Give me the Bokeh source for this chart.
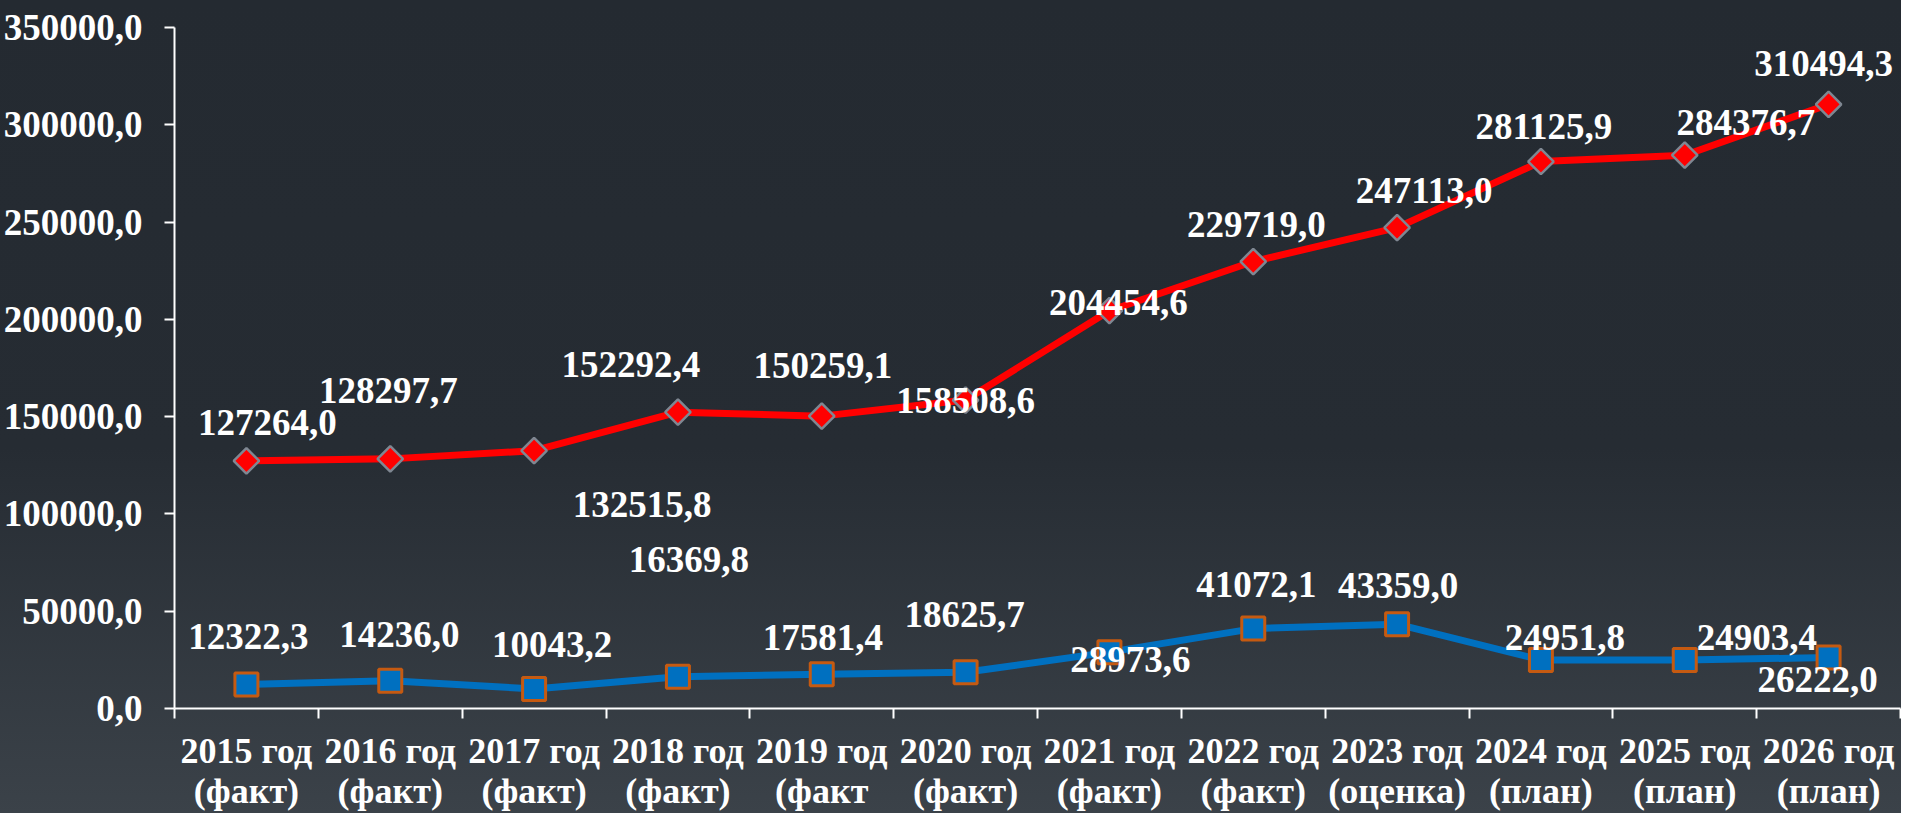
from bokeh.plotting import figure
from bokeh.models import Range1d, FixedTicker, LinearAxis, ColumnDataSource
from bokeh.core.properties import value
from bokeh.embed import file_html
from bokeh.resources import INLINE
import numpy as np

years = ["2015 год", "2016 год", "2017 год", "2018 год", "2019 год", "2020 год",
         "2021 год", "2022 год", "2023 год", "2024 год", "2025 год", "2026 год"]
statuses = ["(факт)", "(факт)", "(факт)", "(факт)", "(факт", "(факт)",
            "(факт)", "(факт)", "(оценка)", "(план)", "(план)", "(план)"]
red_values = [127264.0, 128297.7, 132515.8, 152292.4, 150259.1, 158508.6,
              204454.6, 229719.0, 247113.0, 281125.9, 284376.7, 310494.3]
blue_values = [12322.3, 14236.0, 10043.2, 16369.8, 17581.4, 18625.7,
               28973.6, 41072.1, 43359.0, 24951.8, 24903.4, 26222.0]
y_ticks = [0, 50000, 100000, 150000, 200000, 250000, 300000, 350000]
y_tick_labels = ["0,0", "50000,0", "100000,0", "150000,0", "200000,0",
                 "250000,0", "300000,0", "350000,0"]

# label offsets in screen pixels (style)
red_dx = [21, -2, 108, -47, 1, 0, 9, 3, 27, 3, 61, -5]
red_dy = [-38, -68, 54, -48, -51, 0, -8, -37, -37, -35, -33, -41]
blue_dx = [2, 9, 18, 11, 1, -1, 21, 3, 1, 24, 72, -11]
blue_dy = [-48, -46, -44, -117, -37, -58, 7, -44, -39, -22, -23, 22]

FONT = "Liberation Serif"
n = len(years)
xs = [i + 0.5 for i in range(n)]

def fmt(v):
    return f"{v:.1f}".replace(".", ",")

p = figure(width=1901, height=813, x_range=Range1d(0, n), y_range=Range1d(0, 350000),
           output_backend="svg", toolbar_location=None,
           x_axis_type=None, y_axis_type=None,
           min_border_left=171, min_border_right=1, min_border_top=27, min_border_bottom=104)
p.grid.visible = False
p.outline_line_color = None
p.background_fill_color = None
p.border_fill_color = None
p.styles = {"background": "linear-gradient(to bottom, #242a31 0%, #262c33 55%, #3b4249 100%)"}

yaxis = LinearAxis(ticker=FixedTicker(ticks=y_ticks),
                   major_label_overrides={t: l for t, l in zip(y_ticks, y_tick_labels)})
yaxis.axis_line_color = "white"
yaxis.axis_line_width = 2
yaxis.major_tick_line_color = "white"
yaxis.major_tick_line_width = 2
yaxis.major_tick_out = 10
yaxis.major_tick_in = 0
yaxis.minor_tick_line_color = None
yaxis.major_label_standoff = 22
yaxis.major_label_text_font = FONT
yaxis.major_label_text_font_style = "bold"
yaxis.major_label_text_font_size = "37px"
yaxis.major_label_text_color = "white"
p.add_layout(yaxis, "left")

xaxis = LinearAxis(ticker=FixedTicker(ticks=xs, minor_ticks=list(range(n + 1))),
                   major_label_overrides={x: f"{y}\n{s}" for x, y, s in zip(xs, years, statuses)})
xaxis.axis_line_color = "white"
xaxis.axis_line_width = 2
xaxis.major_tick_line_color = None
xaxis.major_tick_out = 10
xaxis.major_tick_in = 0
xaxis.minor_tick_line_color = "white"
xaxis.minor_tick_line_width = 2
xaxis.minor_tick_out = 10
xaxis.minor_tick_in = 0
xaxis.major_label_standoff = 12
xaxis.major_label_text_font = FONT
xaxis.major_label_text_font_style = "bold"
xaxis.major_label_text_font_size = "36px"
xaxis.major_label_text_color = "white"
xaxis.major_label_text_line_height = 1.0
p.add_layout(xaxis, "below")

src = ColumnDataSource(dict(x=xs, red=red_values, blue=blue_values,
                            red_lbl=[fmt(v) for v in red_values],
                            blue_lbl=[fmt(v) for v in blue_values],
                            rdx=red_dx, rdy=red_dy, bdx=blue_dx, bdy=blue_dy))

p.line("x", "red", source=src, line_color="#ff0000", line_width=7)
p.scatter("x", "red", source=src, marker="square", angle=np.pi / 4, size=18,
          fill_color="#ff0000", line_color="#7f8792", line_width=2.5)
p.line("x", "blue", source=src, line_color="#0070c0", line_width=7)
p.scatter("x", "blue", source=src, marker="square", size=23,
          fill_color="#0070c0", line_color="#c55a11", line_width=3)

for col, dx, dy in (("red_lbl", "rdx", "rdy"), ("blue_lbl", "bdx", "bdy")):
    yc = "red" if col == "red_lbl" else "blue"
    p.text("x", yc, text=col, source=src, x_offset=dx, y_offset=dy,
           text_align="center", text_baseline="middle",
           text_font=value(FONT), text_font_style="bold", text_font_size="37px",
           text_color="white")

open("out.html", "w").write(file_html(p, INLINE))
